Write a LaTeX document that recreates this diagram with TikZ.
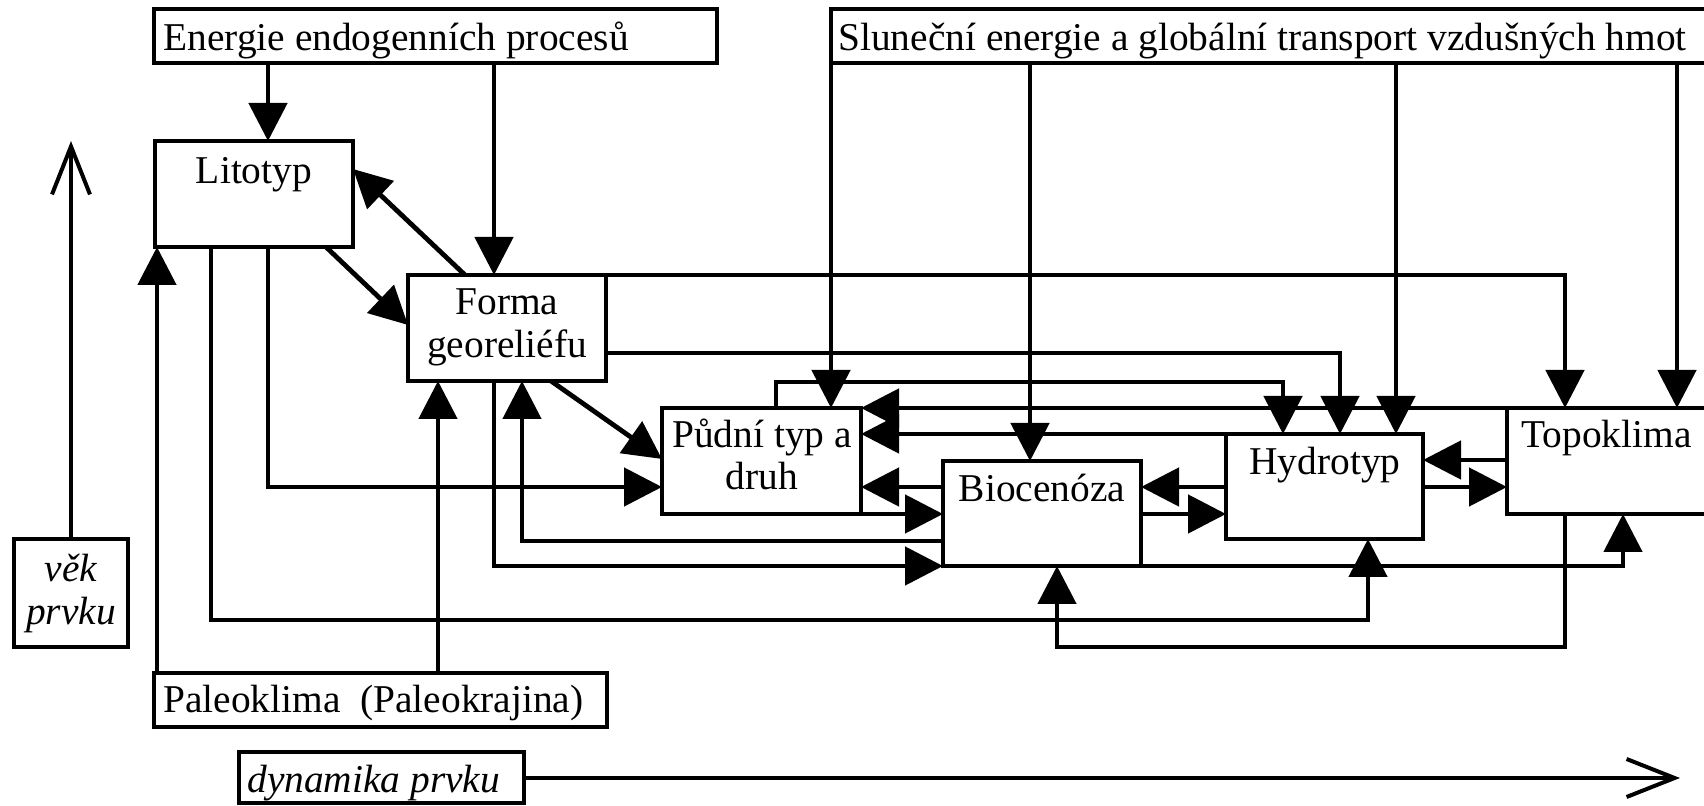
\documentclass[tikz,border=0pt]{standalone}
\usepackage{fontspec}
\setmainfont{Liberation Serif}
\usetikzlibrary{arrows.meta}
\begin{document}
\begin{tikzpicture}[x=0.5pt,y=-0.5pt,
  box/.style={draw,line width=2.4pt,inner sep=0pt,outer sep=0pt,anchor=north west},
  lbl/.style={inner sep=0pt,font=\fontsize{19.7}{23}\selectfont},
  arr/.style={line width=2.4pt,-{Triangle[length=19pt,width=19pt]}},
  open/.style={line width=2pt,-{Straight Barb[length=24pt,width=19pt]}}]
\useasboundingbox (0,0) rectangle (1704,806);
% boxes
\node[box,minimum width=281.5pt,minimum height=27pt] (en) at (154,9) {};
\node[box,minimum width=470pt,minimum height=27pt] (sl) at (831,9) {};
\node[box,minimum width=99pt,minimum height=53pt] (lit) at (155,141) {};
\node[box,minimum width=99pt,minimum height=53pt] (forma) at (408,275) {};
\node[box,minimum width=99.5pt,minimum height=53pt] (pud) at (662,408) {};
\node[box,minimum width=99pt,minimum height=52.5pt] (bio) at (943,461) {};
\node[box,minimum width=98.5pt,minimum height=52.5pt] (hyd) at (1226,434) {};
\node[box,minimum width=102pt,minimum height=53pt] (topo) at (1507,408) {};
\node[box,minimum width=57pt,minimum height=54pt] (vek) at (14,539) {};
\node[box,minimum width=226.5pt,minimum height=27pt] (paleo) at (154,673) {};
\node[box,minimum width=142.5pt,minimum height=25.5pt] (dyn) at (239,752) {};
% labels
\node[lbl,anchor=base west] (tEn) at (163,50.7) {Energie endogenních procesů};
\node[lbl,anchor=base west] (tSl) at (838,50.7) {Sluneční energie a globální transport vzdušných hmot};
\node[lbl,anchor=base] (tLit) at (254,184) {Litotyp};
\node[lbl,anchor=base] (tFo1) at (507,315) {Forma};
\node[lbl,anchor=base] (tFo2) at (507,358) {georeliéfu};
\node[lbl,anchor=base] (tPu1) at (762,448) {Půdní typ a};
\node[lbl,anchor=base] (tPu2) at (762,490) {druh};
\node[lbl,anchor=base] (tBio) at (1042,502) {Biocenóza};
\node[lbl,anchor=base] (tHyd) at (1325,475) {Hydrotyp};
\node[lbl,anchor=base west] (tTop) at (1521,448) {Topoklima};
\node[lbl,anchor=base] (tVe1) at (71,582) {\itshape věk};
\node[lbl,anchor=base] (tVe2) at (71,625) {\itshape prvku};
\node[lbl,anchor=base west] (tPal) at (163,713) {Paleoklima\ \ (Paleokrajina)};
\node[lbl,anchor=base west] (tDyn) at (247,793) {\itshape dynamika prvku};
% axis arrows
\coordinate (vektip) at (71,141);
\coordinate (dyntip) at (1680,778);
\draw[open] (vek.north) -- (vektip);
\draw[open] (dyn.east |- dyntip) -- (dyntip);
% energy inputs
\draw[arr] (268,0 |- en.south) -- (268,0 |- lit.north);
\draw[arr] (494,0 |- en.south) -- (494,0 |- forma.north);
\draw[arr] (sl.south west) -- (sl.south west |- pud.north);
\draw[arr] (1030,0 |- sl.south) -- (1030,0 |- bio.north);
\draw[arr] (1396,0 |- sl.south) -- (1396,0 |- hyd.north);
\draw[arr] (1677,0 |- sl.south) -- (1677,0 |- topo.north);
% litotyp / forma
\draw[arr] (326,0 |- lit.south) -- (forma.west |- 0,325);
\draw[arr] (465,0 |- forma.north) -- (lit.east |- 0,169);
\draw[arr] (551,0 |- forma.south) -- (pud.west |- 0,459);
\draw[arr] (268,0 |- lit.south) |- (pud.west |- 0,487);
\draw[arr] (211,0 |- lit.south) -- (211,620) -| (1368,0 |- hyd.south);
\draw[arr] (157,0 |- paleo.north) -- (157,0 |- lit.south);
\draw[arr] (438,0 |- paleo.north) -- (438,0 |- forma.south);
\draw[arr] (494,0 |- forma.south) |- (bio.south west);
\draw[arr] (bio.west |- 0,541) -| (522,0 |- forma.south);
\draw[arr] (forma.east |- 0,353) -| (1340,0 |- hyd.north);
\draw[arr] (forma.north east) -| (1565,0 |- topo.north);
% middle row
\draw[arr] (776,0 |- pud.north) -- (776,382) -| (1283,0 |- hyd.north);
\draw[arr] (topo.north west) -- (pud.north east);
\draw[arr] (hyd.north west) -- (pud.east |- hyd.north west);
\draw[arr] (bio.west |- 0,487) -- (pud.east |- 0,487);
\draw[arr] (pud.south east) -- (bio.west |- pud.south east);
\draw[arr] (hyd.west |- 0,487) -- (bio.east |- 0,487);
\draw[arr] (bio.east |- 0,514) -- (hyd.west |- 0,514);
\draw[arr] (topo.west |- 0,460) -- (hyd.east |- 0,460);
\draw[arr] (hyd.east |- 0,487) -- (topo.west |- 0,487);
\draw[arr] (bio.south east) -| (1623,0 |- topo.south);
\draw[arr] (1565,0 |- topo.south) -- (1565,647) -| (1057,0 |- bio.south);
\end{tikzpicture}
\end{document}
